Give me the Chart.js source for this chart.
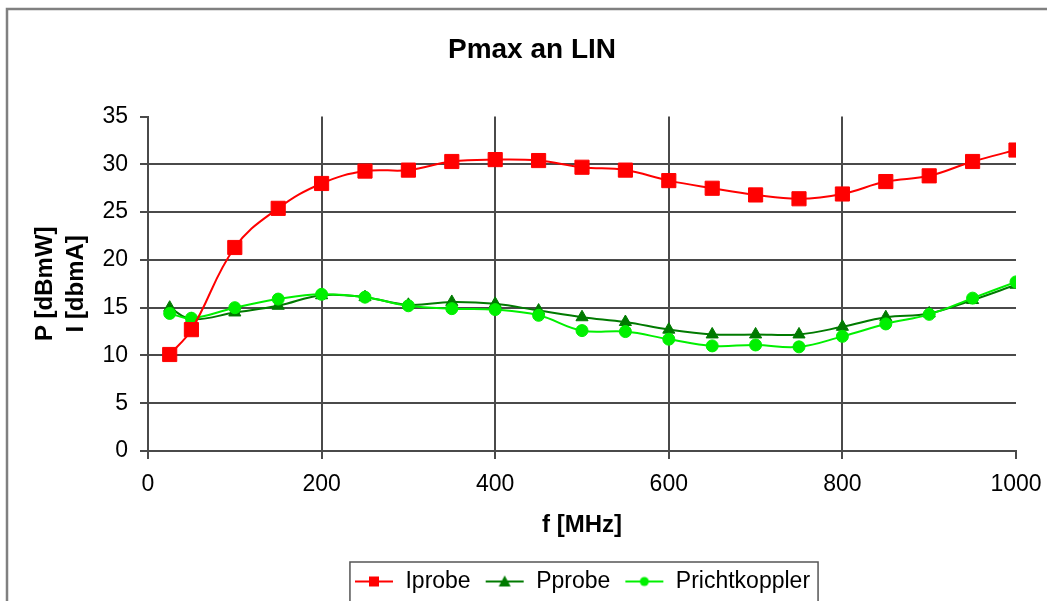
<!DOCTYPE html>
<html>
<head>
<meta charset="utf-8">
<script src="https://cdn.jsdelivr.net/npm/chart.js@4.4.1/dist/chart.umd.min.js"></script>
<style>
  html, body { margin: 0; padding: 0; background: #fff; overflow: hidden; }
  #wrap { position: relative; width: 1064px; height: 615px; }
</style>
</head>
<body>
<div id="wrap"><canvas id="c" width="1064" height="615"></canvas></div>
<script>
// ---- data ----
const chartTitle = 'Pmax an LIN';
const xTitle = 'f [MHz]';
const yTitle = ['P [dBmW]', 'I [dbmA]'];
const freq = [25, 50, 100, 150, 200, 250, 300, 350, 400, 450, 500, 550, 600, 650, 700, 750, 800, 850, 900, 950, 1000];
const iprobe = [10.1, 12.7, 21.3, 25.4, 28.0, 29.3, 29.4, 30.3, 30.5, 30.4, 29.7, 29.4, 28.3, 27.5, 26.8, 26.4, 26.9, 28.2, 28.8, 30.3, 31.5];
const pprobe = [15.0, 13.8, 14.5, 15.2, 16.3, 16.1, 15.3, 15.6, 15.4, 14.7, 14.0, 13.5, 12.7, 12.2, 12.2, 12.2, 13.0, 14.0, 14.4, 15.8, 17.4];
const prichtkoppler = [14.4, 13.9, 15.0, 15.9, 16.4, 16.1, 15.2, 14.9, 14.8, 14.2, 12.6, 12.5, 11.7, 11.0, 11.1, 10.9, 12.0, 13.3, 14.3, 16.0, 17.7];
const seriesNames = ['Iprobe', 'Pprobe', 'Prichtkoppler'];
const xTicks = [0, 200, 400, 600, 800, 1000];
const yTicks = [0, 5, 10, 15, 20, 25, 30, 35];

const FONT = "'Liberation Sans', Arial, sans-serif";
const GRID = '#4a4a4a';

function pts(ys) { return freq.map((f, i) => ({ x: f, y: ys[i] })); }

function legendSymbol(color, style, size) {
  const c = document.createElement('canvas');
  c.width = 40; c.height = 20;
  const g = c.getContext('2d');
  g.strokeStyle = color; g.fillStyle = color; g.lineWidth = 2;
  g.beginPath(); g.moveTo(1, 10); g.lineTo(39, 10); g.stroke();
  g.beginPath();
  if (style === 'rect') { g.rect(20 - size / 2, 10 - size / 2, size, size); }
  else if (style === 'triangle') { g.moveTo(20, 10 - size / 2 - 1); g.lineTo(20 + size / 2 + 1, 10 + size / 2); g.lineTo(20 - size / 2 - 1, 10 + size / 2); g.closePath(); }
  else { g.arc(20, 10, size / 2, 0, Math.PI * 2); }
  g.fill();
  return c;
}

const styles = [
  { color: '#ff0000', point: 'rect', r: 10, legend: legendSymbol('#ff0000', 'rect', 10) },
  { color: '#007a00', point: 'triangle', r: 7, legend: legendSymbol('#007a00', 'triangle', 10) },
  { color: '#00f000', point: 'circle', r: 6, legend: legendSymbol('#00f000', 'circle', 9) }
];
const seriesData = [iprobe, pprobe, prichtkoppler];
const drawOrder = [0, 2, 1];

const frameAndLegendBox = {
  id: 'frameAndLegendBox',
  beforeDraw(chart) {
    const ctx = chart.ctx;
    ctx.save();
    ctx.fillStyle = '#fff';
    ctx.fillRect(0, 0, chart.width, chart.height);
    ctx.strokeStyle = '#808080';
    ctx.lineWidth = 2.5;
    ctx.strokeRect(7, 9, chart.width + 20, chart.height + 20);
    ctx.restore();
  },
  afterDraw(chart) {
    const hb = chart.legend && chart.legend.legendHitBoxes;
    if (!hb || !hb.length) return;
    const ctx = chart.ctx;
    const left = Math.min(...hb.map(h => h.left)) - 4;
    const right = Math.max(...hb.map(h => h.left + h.width)) + 8;
    const top = hb[0].top - 8;
    ctx.save();
    ctx.strokeStyle = '#555';
    ctx.lineWidth = 1.5;
    ctx.strokeRect(left, top, right - left, chart.height + 10 - top);
    ctx.restore();
  }
};

new Chart(document.getElementById('c'), {
  type: 'line',
  data: {
    datasets: seriesNames.map((name, i) => ({
      label: name,
      data: pts(seriesData[i]),
      borderColor: styles[i].color,
      backgroundColor: styles[i].color,
      borderWidth: 2,
      pointStyle: styles[i].point,
      pointRadius: styles[i].r,
      pointBorderWidth: 1,
      pointBackgroundColor: styles[i].color,
      pointBorderColor: styles[i].color,
      tension: 0.4,
      fill: false,
      order: drawOrder[i]
    }))
  },
  options: {
    responsive: false,
    devicePixelRatio: 1,
    animation: false,
    events: [],
    layout: { padding: { top: 33, left: 48, right: 48, bottom: 12 } },
    plugins: {
      tooltip: { enabled: false },
      title: {
        display: true,
        text: chartTitle,
        color: '#000',
        font: { family: FONT, size: 28, weight: 'bold', lineHeight: 1.2 },
        padding: { top: 0, bottom: 50 }
      },
      legend: {
        display: true,
        position: 'bottom',
        fullSize: false,
        labels: {
          color: '#000',
          font: { family: FONT, size: 23 },
          usePointStyle: true,
          pointStyleWidth: 40,
          padding: 14,
          sort: (a, b) => a.datasetIndex - b.datasetIndex,
          generateLabels: (chart) => chart.data.datasets.map((ds, i) => ({
            text: ds.label,
            datasetIndex: i,
            pointStyle: styles[i].legend,
            fillStyle: styles[i].color,
            strokeStyle: styles[i].color,
            lineWidth: 0,
            hidden: false,
            fontColor: '#000'
          }))
        }
      }
    },
    scales: {
      x: {
        type: 'linear',
        min: 0, max: 1000,
        afterBuildTicks: (s) => { s.ticks = xTicks.map(v => ({ value: v })); },
        afterFit: (s) => { s.height = 105; },
        ticks: {
          color: '#000',
          font: { family: FONT, size: 23 },
          padding: 12,
          maxRotation: 0,
          callback: (v) => String(v)
        },
        grid: {
          color: (c) => (c.tick && c.tick.value === 1000 ? 'rgba(0,0,0,0)' : GRID),
          tickColor: GRID,
          lineWidth: 2,
          tickLength: 8
        },
        border: { display: true, color: GRID, width: 2 },
        title: {
          display: true,
          text: xTitle,
          color: '#000',
          font: { family: FONT, size: 24, weight: 'bold', lineHeight: 1.2 },
          padding: { top: 10, bottom: 16 }
        }
      },
      y: {
        min: 0, max: 35,
        afterBuildTicks: (s) => { s.ticks = yTicks.map(v => ({ value: v })); },
        afterFit: (s) => { s.width = 100; },
        ticks: {
          color: '#000',
          font: { family: FONT, size: 23 },
          padding: 12,
          callback: (v) => String(v)
        },
        grid: {
          color: (c) => (c.tick && c.tick.value === 35 ? 'rgba(0,0,0,0)' : GRID),
          tickColor: GRID,
          lineWidth: 2,
          tickLength: 8
        },
        border: { display: true, color: GRID, width: 2 },
        title: {
          display: true,
          text: yTitle,
          color: '#000',
          font: { family: FONT, size: 24, weight: 'bold', lineHeight: 1.3 },
          padding: { top: -18, bottom: 0 }
        }
      }
    }
  },
  plugins: [frameAndLegendBox]
});
</script>
</body>
</html>
